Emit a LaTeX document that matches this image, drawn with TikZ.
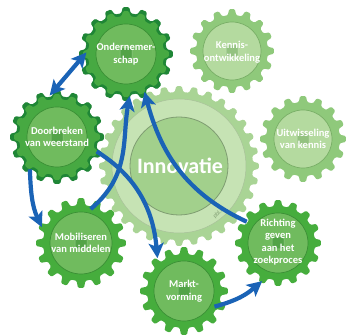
\documentclass[tikz,border=0pt]{standalone}
\usepackage{fontspec}
\newfontfamily\gearfont{Carlito}
\usetikzlibrary{arrows.meta}

\definecolor{darkgear}{HTML}{1F8636}
\definecolor{midgear}{HTML}{47A942}
\definecolor{brightgear}{HTML}{46AD3D}
\definecolor{greendisc}{HTML}{70BB5E}
\definecolor{greenedge}{HTML}{3A8F35}
\definecolor{palegear}{HTML}{8FC97B}
\definecolor{paledisc}{HTML}{B4DA9F}
\definecolor{paleedge}{HTML}{78AE66}
\definecolor{innogear}{HTML}{A9D495}
\definecolor{innoring}{HTML}{C6E3B4}
\definecolor{innodisc}{HTML}{A2D08C}
\definecolor{innoedge}{HTML}{7F9D72}
\definecolor{arrowblue}{HTML}{1A63B6}

% gear: x, y, teeth, tip radius, root radius, colour
\newcommand{\gear}[6]{%
	\begin{scope}[shift={(#1,#2)}]
		\fill[#6, rounded corners=1.2pt] ({0.3*360/#3}:#5)
			\foreach \k in {1,...,#3}{
				-- ({(\k-0.3)*360/#3}:#5) -- ({(\k-0.17)*360/#3}:#4)
				-- ({(\k+0.17)*360/#3}:#4) -- ({(\k+0.3)*360/#3}:#5)}
			-- cycle;
	\end{scope}}
% disc with hub: x, y, radius, fill, edge
\newcommand{\gearhub}[5]{%
	\filldraw[fill=#4, draw=#5, line width=0.7pt] (#1,#2) circle (#3);
	\filldraw[fill=#5!55!#4, draw=#4!70!white, line width=0.5pt, rounded corners=1.5pt]
		({#1-6},{#2-6}) rectangle ({#1+6},{#2+6});}

\tikzset{
	gearlabel/.style={circle, minimum size=84pt, inner sep=0pt, align=center, text=white,
		font=\gearfont\bfseries\fontsize{10.5}{12.5}\selectfont},
	flowtip/.tip={Stealth[length=15pt, width=15pt, inset=3.5pt]},
	flow/.style={arrowblue, line width=4.2pt, -flowtip}
}

\begin{document}
\begin{tikzpicture}[x=1pt, y=1pt]
		\useasboundingbox (0,0) rectangle (349,336);
		% pale gears
		\gear{232}{285}{16}{42}{36}{palegear}
		\gearhub{232}{285}{29}{paledisc}{paleedge}
		\gear{303}{197}{16}{43}{37}{palegear}
		\gearhub{303}{197}{29}{paledisc}{paleedge}
		% big gear
		\gear{179}{170}{32}{80}{74}{innogear}
		\filldraw[fill=innoring, draw=innoring!85!black, line width=0.5pt] (179,170) circle (67);
		\filldraw[fill=innodisc, draw=innoedge, line width=0.8pt] (179,170) circle (49);
		% dark gears
		\gear{126}{282}{16}{47}{41}{darkgear}
		\gear{126}{282}{16}{43}{38}{midgear}
		\gearhub{126}{282}{30}{greendisc}{greenedge}
		\gear{57}{199}{16}{47}{41}{darkgear}
		\gear{57}{199}{16}{43}{38}{midgear}
		\gearhub{57}{199}{30}{greendisc}{greenedge}
		% bright gears
		\gear{81}{93}{16}{45}{38}{brightgear}
		\gearhub{81}{93}{31}{greendisc}{greenedge}
		\gear{184}{45}{16}{44}{37}{brightgear}
		\gearhub{184}{45}{30}{greendisc}{greenedge}
		\gear{278}{93}{16}{43}{37}{brightgear}
		\gearhub{278}{93}{30}{greendisc}{greenedge}

		\node[gearlabel] (kennis) at (232,284) {Kennis-\\ontwikkeling};
		\node[gearlabel] (uitw) at (303,197) {Uitwisseling\\van kennis};
		\node[text=white, font=\gearfont\bfseries\fontsize{22}{24}\selectfont] (innov) at (180,170) {Innovatie};
		\node[text=innoedge, rotate=44, font=\gearfont\fontsize{6}{7}\selectfont, inner sep=1pt] (pbl) at (219,123) {pbl.nl};
		\node[gearlabel] (ond) at (126,282) {Ondernemer-\\schap};
		\node[gearlabel] (doorb) at (57,199) {Doorbreken\\van weerstand};
		\node[gearlabel] (mobil) at (81,93) {Mobiliseren\\van middelen};
		\node[gearlabel] (markt) at (184,45) {Markt-\\vorming};
		\node[gearlabel] (richt) at (278,94) {Richting\\geven\\aan het\\zoekproces};

		\draw[flow, flowtip-flowtip, shorten >=-4pt] (doorb.100) -- (ond.182);
		\draw[flow] (doorb.-20) to[out=-32, in=95] (markt.129);
		\draw[flow, shorten <=-8pt] (mobil.68) to[out=40, in=-100] (ond.-85);
		\draw[flow, shorten <=-5pt] (richt.148) to[out=155, in=-75] (ond.-64);
		\draw[flow] (doorb.-130) to[out=-88, in=115] (mobil.158);
		\draw[flow, shorten <=-10pt] (markt.-18) to[out=15, in=-140] (richt.-112);
	\end{tikzpicture}
\end{document}
